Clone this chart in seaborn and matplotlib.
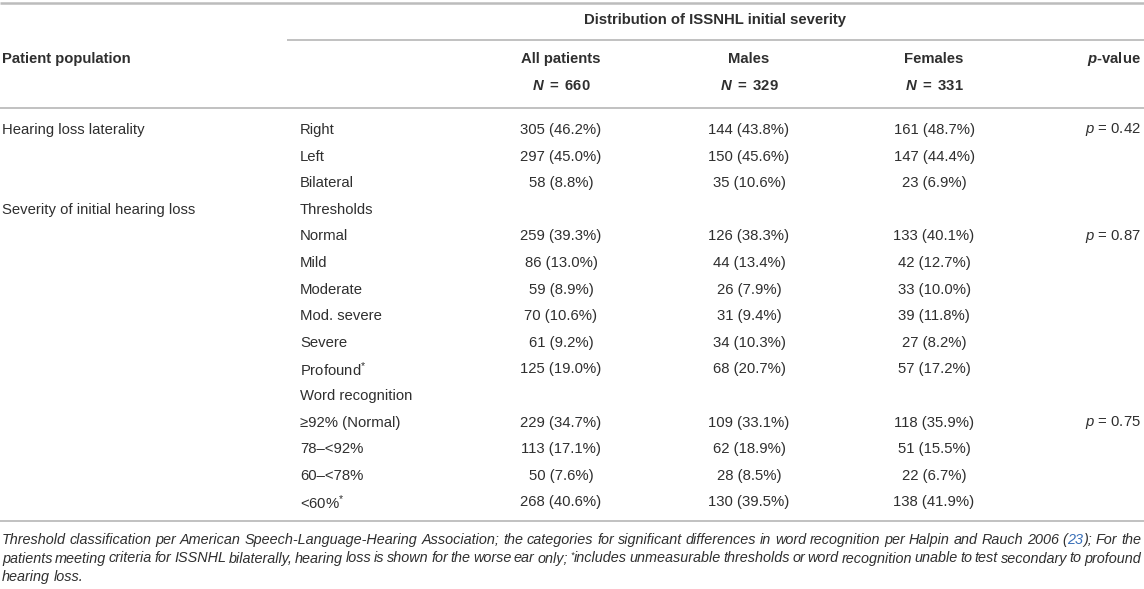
import matplotlib
matplotlib.use("Agg")
import matplotlib.pyplot as plt
import seaborn as sns

sns.set_theme(style="white")
plt.rcParams["font.family"] = ["Liberation Sans", "DejaVu Sans"]
plt.rcParams["mathtext.fontset"] = "custom"
plt.rcParams["mathtext.rm"] = "Liberation Sans"
plt.rcParams["mathtext.it"] = "Liberation Sans:italic"
plt.rcParams["mathtext.bf"] = "Liberation Sans:bold"
plt.rcParams["mathtext.bfit"] = "Liberation Sans:bold:italic"

# ---- data ----
spanner = "Distribution of ISSNHL initial severity"
col_headers = ["All patients", "Males", "Females"]
col_ns = ["660", "329", "331"]
group_labels = ["Hearing loss laterality", "", "", "Severity of initial hearing loss",
                "", "", "", "", "", "", "", "", "", "", ""]
sub_labels = ["Right", "Left", "Bilateral", "Thresholds", "Normal", "Mild", "Moderate",
              "Mod. severe", "Severe", "Profound*", "Word recognition",
              "\u226592% (Normal)", "78\u2013<92%", "60\u2013<78%", "<60%*"]
all_vals = ["305 (46.2%)", "297 (45.0%)", "58 (8.8%)", "", "259 (39.3%)", "86 (13.0%)",
            "59 (8.9%)", "70 (10.6%)", "61 (9.2%)", "125 (19.0%)", "", "229 (34.7%)",
            "113 (17.1%)", "50 (7.6%)", "268 (40.6%)"]
male_vals = ["144 (43.8%)", "150 (45.6%)", "35 (10.6%)", "", "126 (38.3%)", "44 (13.4%)",
             "26 (7.9%)", "31 (9.4%)", "34 (10.3%)", "68 (20.7%)", "", "109 (33.1%)",
             "62 (18.9%)", "28 (8.5%)", "130 (39.5%)"]
female_vals = ["161 (48.7%)", "147 (44.4%)", "23 (6.9%)", "", "133 (40.1%)", "42 (12.7%)",
               "33 (10.0%)", "39 (11.8%)", "27 (8.2%)", "57 (17.2%)", "", "118 (35.9%)",
               "51 (15.5%)", "22 (6.7%)", "138 (41.9%)"]
p_vals = ["0.42", "", "", "", "0.87", "", "", "", "", "", "", "0.75", "", "", ""]
# footnote pieces: (text, kind) kind: "n" normal, "link" blue, "sup" superscript
footnote_lines = [
    [("Threshold classification per American Speech-Language-Hearing Association; the categories for significant differences in word recognition per Halpin and Rauch 2006 (", "n"),
     ("23", "link"), ("); For the", "n")],
    [("patients meeting criteria for ISSNHL bilaterally, hearing loss is shown for the worse ear only; ", "n"),
     ("*", "sup"), ("includes unmeasurable thresholds or word recognition unable to test secondary to profound", "n")],
    [("hearing loss.", "n")],
]

# ---- layout ----
W, H = 1144, 589
fig = plt.figure(figsize=(W / 100, H / 100), dpi=100)
ax = fig.add_axes([0, 0, 1, 1])
ax.set_xlim(0, W)
ax.set_ylim(H, 0)
ax.axis("off")
renderer = fig.canvas.get_renderer()

TXT = "#2f2f2f"
LINK = "#3a70b8"
LINE = "#bcbcbc"
FS = 10.7
x_grp, x_sub = 2, 300
x_cols = [561, 749, 934]
x_p = 1141
y0, dy = 130, 26.6

ax.hlines(2.5, 0, W, color=LINE, lw=1.8)
ax.hlines(39.5, 287, W, color=LINE, lw=1.3)
ax.hlines(107.5, 0, W, color=LINE, lw=1.3)
ax.hlines(521, 0, W, color=LINE, lw=1.3)

ax.text((287 + W) / 2, 20, spanner, ha="center", va="center", fontsize=FS,
        fontweight="bold", color=TXT)
ax.text(x_grp, 59, "Patient population", ha="left", va="center", fontsize=FS,
        fontweight="bold", color=TXT)
for x, h, n in zip(x_cols, col_headers, col_ns):
    ax.text(x, 59, h, ha="center", va="center", fontsize=FS, fontweight="bold", color=TXT)
    ax.text(x, 86, r"$\mathbfit{N}\ \mathbf{=\ " + n + "}$", ha="center", va="center",
            fontsize=FS, color=TXT)
ax.text(x_p, 59, r"$\mathbfit{p}$" + "-value", ha="right", va="center", fontsize=FS,
        fontweight="bold", color=TXT)


def lab(s):
    if s.endswith("*"):
        return s[:-1] + r"$^{*}$"
    return s


for i in range(len(sub_labels)):
    y = y0 + i * dy
    if group_labels[i]:
        ax.text(x_grp, y, group_labels[i], ha="left", va="center", fontsize=FS, color=TXT)
    ax.text(x_sub, y, lab(sub_labels[i]), ha="left", va="center", fontsize=FS, color=TXT)
    for x, v in zip(x_cols, (all_vals[i], male_vals[i], female_vals[i])):
        if v:
            ax.text(x, y, v, ha="center", va="center", fontsize=FS, color=TXT)
    if p_vals[i]:
        ax.text(x_p, y, r"$p$ = " + p_vals[i], ha="right", va="center", fontsize=FS, color=TXT)

# ---- footnote, justified like the reference ----
FS2 = 10.35
fy = [544, 562.5, 581]
x_left, x_right = 2, 1141


def width(t):
    return t.get_window_extent(renderer).width


probe_a = ax.text(0, 0, "xx", fontsize=FS2, style="italic")
probe_b = ax.text(0, 0, "x x", fontsize=FS2, style="italic")
space_w = width(probe_b) - width(probe_a)
probe_a.remove()
probe_b.remove()

for li, (y, pieces) in enumerate(zip(fy, footnote_lines)):
    items = []  # (text_artist, width, space_before)
    pending_space = False
    for txt, kind in pieces:
        words = txt.split(" ")
        for wi, wd in enumerate(words):
            if wi > 0:
                pending_space = True
            if wd == "":
                continue
            fs = FS2 * 0.62 if kind == "sup" else FS2
            col = LINK if kind == "link" else TXT
            yy = y - 5 if kind == "sup" else y
            t = ax.text(0, yy, wd, ha="left", va="baseline", fontsize=fs, style="italic", color=col)
            items.append([t, width(t), pending_space and len(items) > 0])
            pending_space = False
    n_gaps = sum(1 for it in items if it[2])
    natural = sum(it[1] for it in items) + n_gaps * space_w
    gap = space_w
    if li < len(footnote_lines) - 1 and n_gaps:
        gap = space_w + (x_right - x_left - natural) / n_gaps
    x = x_left
    for t, w, sp in items:
        if sp:
            x += gap
        t.set_x(x)
        x += w

fig.savefig("out.png", dpi=100)
